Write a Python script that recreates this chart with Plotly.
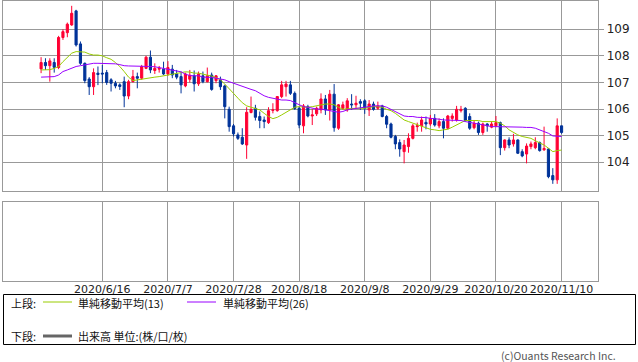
import plotly.graph_objects as go
import pandas as pd

W, H = 638, 362

# ---- data (USD/JPY daily) ----
dates = [d.strftime("%Y/%-m/%-d") for d in pd.bdate_range("2020-05-27", periods=120)]

opens = [107.51,107.75,107.63,107.75,107.56,108.69,108.87,109.16,109.69,108.45,
         107.72,107.13,106.84,107.35,107.35,107.37,107.10,106.97,106.91,107.03,
         106.49,107.03,107.22,107.16,107.53,107.95,107.45,107.50,107.50,107.32,
         107.50,107.32,107.22,106.87,107.12,107.25,106.95,107.25,107.03,107.28,
         107.07,107.10,106.87,105.99,105.37,105.03,104.94,104.65,105.87,106.03,
         105.72,105.59,105.49,105.95,105.94,106.47,106.84,106.91,106.59,106.03,
         105.37,106.09,105.74,105.82,105.97,106.38,105.97,106.56,105.28,106.03,
         105.97,106.19,106.16,106.28,106.31,105.97,106.19,106.03,106.12,105.72,
         105.44,104.97,104.74,104.40,104.59,104.90,105.34,105.37,105.50,105.44,
         105.65,105.37,105.53,105.28,105.65,105.59,105.94,106.03,105.72,105.30,
         105.47,105.12,105.44,105.32,105.37,105.49,104.55,104.84,104.69,104.84,
         104.40,104.31,104.59,104.55,104.74,104.47,104.50,103.50,103.34,105.37]
highs = [107.95,107.91,107.91,107.91,108.75,109.00,109.25,109.88,109.73,108.54,
         107.75,107.20,107.53,107.60,107.66,107.47,107.16,107.06,106.97,107.22,
         107.10,107.47,107.37,107.66,108.00,108.20,107.72,107.62,107.78,107.80,
         107.66,107.47,107.41,107.37,107.47,107.45,107.41,107.41,107.56,107.37,
         107.28,107.22,106.91,106.09,105.44,105.12,105.28,106.07,106.47,106.16,
         105.91,105.72,106.07,106.22,106.49,107.06,107.06,107.06,106.66,106.09,
         106.19,106.16,106.00,106.09,106.59,106.53,106.72,106.94,106.19,106.28,
         106.41,106.56,106.50,106.37,106.37,106.34,106.28,106.28,106.16,105.78,
         105.49,105.03,104.86,104.84,105.09,105.44,105.49,105.72,105.72,105.78,
         105.81,105.65,105.65,105.78,105.84,106.12,106.12,106.07,105.84,105.59,
         105.53,105.49,105.47,105.53,105.74,105.53,104.86,104.94,105.07,104.86,
         104.49,104.71,104.78,104.94,104.78,105.34,104.52,103.78,105.65,105.37]
lows = [107.35,107.47,107.03,107.37,107.50,108.60,108.70,109.13,108.35,107.66,
        106.97,106.53,106.53,106.90,106.97,106.91,106.66,106.78,106.72,106.07,
        106.37,107.00,106.78,107.10,107.50,107.35,107.32,107.37,107.28,107.25,
        107.16,107.12,106.59,106.82,107.00,106.66,106.87,106.97,107.00,106.69,
        106.97,106.72,105.65,105.15,104.97,104.84,104.65,104.13,105.84,105.57,
        105.28,105.28,105.44,105.84,105.90,106.41,106.47,106.53,105.97,105.28,
        105.09,105.69,105.40,105.74,105.84,105.78,105.57,105.15,105.22,105.97,
        105.90,105.97,106.03,105.97,105.82,105.74,105.94,105.97,105.69,105.28,
        104.90,104.49,104.21,103.96,104.36,104.86,105.15,105.15,105.24,105.37,
        105.34,105.28,104.90,105.24,105.53,105.53,105.87,105.53,105.22,105.24,
        105.03,105.03,105.15,105.28,105.32,104.27,104.44,104.53,104.59,104.31,
        104.19,103.96,104.49,104.49,104.40,104.43,103.40,103.19,103.19,105.07]
closes = [107.75,107.63,107.81,107.57,108.69,108.91,109.19,109.60,108.41,107.72,
          107.07,106.84,107.37,107.30,107.32,107.00,106.97,106.87,106.85,106.49,
          107.03,107.22,107.16,107.60,107.95,107.47,107.53,107.53,107.32,107.56,
          107.28,107.20,106.91,107.32,107.27,106.95,107.32,107.03,107.25,106.74,
          107.25,106.84,106.09,105.34,105.07,104.90,104.69,105.88,105.99,105.69,
          105.57,105.53,105.94,105.97,106.47,106.91,106.94,106.59,106.02,105.40,
          106.12,105.74,105.78,106.03,106.38,105.97,106.56,105.30,106.16,106.16,
          106.31,106.16,106.22,106.22,106.03,106.19,105.99,106.12,105.72,105.43,
          104.94,104.69,104.50,104.65,104.90,105.37,105.37,105.59,105.44,105.65,
          105.40,105.53,105.28,105.74,105.74,105.99,105.99,105.57,105.28,105.47,
          105.12,105.44,105.37,105.44,105.49,104.55,104.84,104.65,104.84,104.34,
          104.24,104.61,104.69,104.74,104.44,104.52,103.46,103.34,105.37,105.12]

sma13 = [107.47,107.47,107.48,107.53,107.60,107.78,107.95,108.10,108.16,108.16,
         108.14,108.07,108.03,108.03,108.00,107.93,107.87,107.75,107.60,107.41,
         107.20,107.07,107.10,107.13,107.16,107.18,107.20,107.22,107.25,107.28,
         107.32,107.35,107.38,107.40,107.39,107.35,107.35,107.32,107.28,107.24,
         107.18,107.10,106.94,106.78,106.59,106.41,106.24,106.12,106.07,106.03,
         105.97,105.84,105.72,105.64,105.69,105.78,105.88,105.97,106.07,106.09,
         106.07,106.07,106.09,106.12,106.16,106.19,106.19,106.16,106.07,105.99,
         106.01,106.03,106.03,106.03,106.03,106.06,106.09,106.09,106.07,105.99,
         105.94,105.84,105.72,105.59,105.53,105.47,105.40,105.34,105.30,105.24,
         105.22,105.19,105.22,105.24,105.32,105.40,105.49,105.57,105.57,105.57,
         105.57,105.53,105.53,105.53,105.53,105.47,105.37,105.22,105.12,105.03,
         104.97,104.94,104.90,104.81,104.74,104.65,104.53,104.40,104.44,104.46]
sma26 = [107.20,107.20,107.20,107.22,107.28,107.41,107.47,107.53,107.60,107.63,
         107.66,107.69,107.72,107.72,107.72,107.72,107.72,107.70,107.67,107.63,
         107.62,107.62,107.62,107.62,107.62,107.60,107.59,107.56,107.53,107.50,
         107.47,107.45,107.40,107.31,107.26,107.25,107.25,107.20,107.20,107.19,
         107.16,107.13,107.10,107.03,106.97,106.91,106.84,106.80,106.74,106.69,
         106.58,106.50,106.44,106.41,106.37,106.34,106.34,106.32,106.24,106.16,
         106.09,106.07,106.03,106.00,106.00,105.97,105.95,105.90,105.88,105.91,
         105.97,106.00,106.03,106.05,106.07,106.09,106.12,106.12,106.12,106.07,
         105.99,105.91,105.82,105.74,105.72,105.72,105.69,105.69,105.68,105.65,
         105.64,105.62,105.59,105.59,105.59,105.59,105.57,105.53,105.49,105.47,
         105.44,105.40,105.37,105.34,105.34,105.34,105.34,105.33,105.32,105.32,
         105.32,105.31,105.31,105.28,105.22,105.15,105.09,104.99,104.97,104.97]

tick_dates = ["2020/6/16", "2020/7/7", "2020/7/28", "2020/8/18",
              "2020/9/8", "2020/9/29", "2020/10/20", "2020/11/10"]
y_ticks = [104, 105, 106, 107, 108, 109]

# ---- styles ----
RED, BLUE = "#ff0033", "#003399"
GREEN, PURPLE = "#99cc00", "#9900ff"
GRID = "#999999"
X_RANGE = [-8.64, 127.4]

def px_x(p):
    return p / W

def px_y(p):
    return 1 - p / H

fig = go.Figure()
fig.add_trace(go.Candlestick(
    x=dates, open=opens, high=highs, low=lows, close=closes,
    increasing=dict(line=dict(color=RED, width=1), fillcolor=RED),
    decreasing=dict(line=dict(color=BLUE, width=1), fillcolor=BLUE),
    whiskerwidth=0, showlegend=False, hoverinfo="skip",
    xaxis="x", yaxis="y"))
fig.add_trace(go.Scatter(x=dates, y=sma13, mode="lines",
                         line=dict(color=GREEN, width=1), showlegend=False,
                         hoverinfo="skip", xaxis="x", yaxis="y"))
fig.add_trace(go.Scatter(x=dates, y=sma26, mode="lines",
                         line=dict(color=PURPLE, width=1), showlegend=False,
                         hoverinfo="skip", xaxis="x", yaxis="y"))

xdom = [px_x(3.3), px_x(598.3)]
common_x = dict(type="category", categoryorder="array", categoryarray=dates,
                range=X_RANGE, tickmode="array", tickvals=tick_dates,
                showgrid=True, gridcolor=GRID, gridwidth=1,
                showline=True, linecolor=GRID, linewidth=1, mirror=True,
                zeroline=False, fixedrange=True, domain=xdom)

fig.update_layout(
    width=W, height=H, margin=dict(l=0, r=0, t=0, b=0),
    paper_bgcolor="white", plot_bgcolor="white",
    font=dict(family="DejaVu Sans", size=11, color="#222222"),
    xaxis=dict(**common_x, anchor="y", showticklabels=False, ticks="",
               rangeslider=dict(visible=False)),
    yaxis=dict(domain=[px_y(190.5), px_y(0.5)], range=[102.94, 110.08], side="right",
               tickmode="array", tickvals=y_ticks,
               ticktext=[str(v) for v in y_ticks],
               showgrid=True, gridcolor=GRID, ticks="outside", ticklen=5,
               tickcolor=GRID, showline=True, linecolor=GRID, mirror=True,
               zeroline=False, fixedrange=True, ticklabeloverflow="allow",
               tickfont=dict(family="DejaVu Sans", size=12, color="#222222")),
    xaxis2=dict(**common_x, anchor="y2", showticklabels=True, ticks="",
                ticktext=tick_dates, ticklabeloverflow="allow",
                ticklabelstandoff=-2,
                tickfont=dict(family="DejaVu Sans", size=11, color="#222222")),
    yaxis2=dict(domain=[px_y(281), px_y(202)], range=[0, 1], showgrid=False,
                showticklabels=False, showline=True, linecolor=GRID,
                mirror=True, zeroline=False, fixedrange=True),
    showlegend=False,
)
# dummy trace to bind the lower panel
fig.add_trace(go.Scatter(x=[dates[0]], y=[None], xaxis="x2", yaxis="y2",
                         showlegend=False, hoverinfo="skip"))

# ---- legend box ----
shapes = [
    dict(type="rect", xref="paper", yref="paper",
         x0=px_x(3.5), x1=px_x(635.5), y0=px_y(344.5), y1=px_y(294.5),
         line=dict(color="#000000", width=1)),
    dict(type="line", xref="paper", yref="paper",
         x0=px_x(43), x1=px_x(72), y0=px_y(302), y1=px_y(302),
         line=dict(color=GREEN, width=1)),
    dict(type="line", xref="paper", yref="paper",
         x0=px_x(187), x1=px_x(216), y0=px_y(302), y1=px_y(302),
         line=dict(color=PURPLE, width=1)),
    dict(type="line", xref="paper", yref="paper",
         x0=px_x(43), x1=px_x(72), y0=px_y(336), y1=px_y(336),
         line=dict(color="#666666", width=3)),
]
JP = "Noto Sans CJK JP"
def label(text, x, y, size=11, color="#111111", anchor="left"):
    return dict(text=text, xref="paper", yref="paper", x=px_x(x), y=px_y(y),
                xanchor=anchor, yanchor="middle", showarrow=False,
                font=dict(family=JP, size=size, color=color))
annotations = [
    label("上段:", 9, 303),
    label("単純移動平均(13)", 76, 303),
    label("下段:", 9, 336),
    label("単純移動平均(26)", 221, 303),
    label("出来高 単位:(株/口/枚)", 76, 336),
    label("(c)Ouants Research Inc.", 618, 355, size=10.5, color="#555555",
          anchor="right"),
]
fig.update_layout(shapes=shapes, annotations=annotations)

fig.write_html("out.html", config={"displayModeBar": False},
               post_script="document.body.style.margin='0';document.body.style.padding='0';")
